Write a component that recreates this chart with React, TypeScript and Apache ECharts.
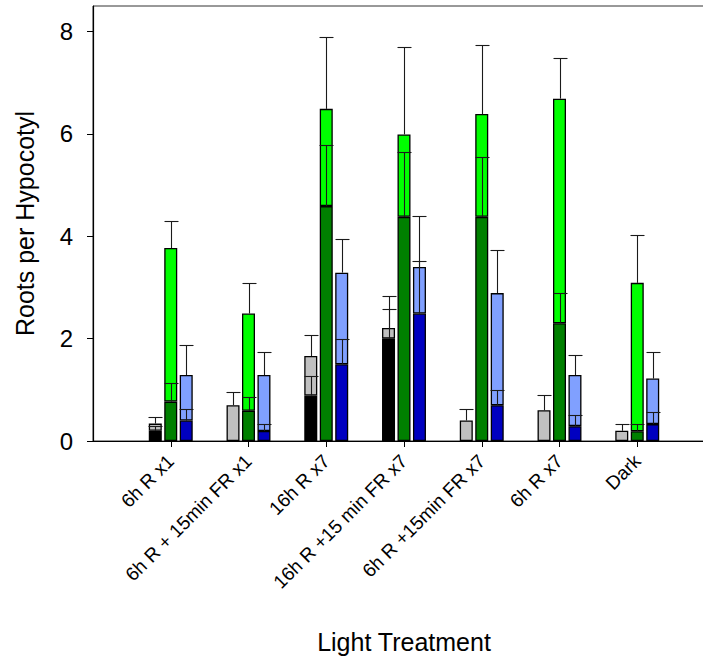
import React, { useEffect, useRef } from "react";
import * as echarts from "echarts";

// ---- Data ----
const categories = [
  "6h R x1",
  "6h R + 15min FR x1",
  "16h R x7",
  "16h R +15 min FR x7",
  "6h R +15min FR x7",
  "6h R x7",
  "Dark",
];

// grey (total) and black (inner) bars
const greyMean = [0.34, 0.7, 1.66, 2.21, 0.4, 0.6, 0.2];
const greySE = [0.12, 0.26, 0.41, 0.63, 0.22, 0.3, 0.13];
const blackMean = [0.2, 0, 0.89, 2.0, 0, 0, 0];
const blackSE = [0.1, 0, 0.38, 0.57, 0, 0, 0];

// light green (total) and dark green (inner) bars
const greenMean = [3.77, 2.49, 6.49, 5.99, 6.39, 6.69, 3.09];
const greenSE = [0.53, 0.6, 1.4, 1.71, 1.35, 0.8, 0.93];
const darkGreenMean = [0.77, 0.59, 4.59, 4.38, 4.38, 2.3, 0.19];
const darkGreenSE = [0.37, 0.27, 1.19, 1.27, 1.16, 0.59, 0.14];

// light blue (total) and dark blue (inner) bars
const lightBlueMean = [1.29, 1.29, 3.29, 3.4, 2.89, 1.29, 1.22];
const lightBlueSE = [0.58, 0.45, 0.65, 1.0, 0.84, 0.39, 0.52];
const darkBlueMean = [0.4, 0.195, 1.5, 2.49, 0.7, 0.29, 0.33];
const darkBlueSE = [0.22, 0.135, 0.5, 1.03, 0.3, 0.22, 0.23];

const yTicks = [0, 2, 4, 6, 8];

const BAR_W = 13;
const BAR_GAP = 0.19;
const PITCH = BAR_W * (1 + BAR_GAP);
const FONT = "'Liberation Sans', Arial, Helvetica, sans-serif";

const axisCats = ["", ...categories, ""];
const pad = (a: (number | null)[]) => [null, ...a, null];
const nz = (a: number[]) => a.map((v) => (v > 0 ? v : null));
const rem = (total: number[], inner: number[]) =>
  total.map((v, i) => +(v - inner[i]).toFixed(3));

function errData(mean: number[], se: number[], slot: number) {
  const out: number[][] = [];
  mean.forEach((m, i) => {
    if (m > 0 && se[i] > 0) out.push([i + 1, m, m + se[i], slot]);
  });
  return out;
}

const barBase = {
  type: "bar" as const,
  barWidth: BAR_W,
  barGap: `${BAR_GAP * 100}%`,
  itemStyle: { borderColor: "#000", borderWidth: 1.3 },
  emphasis: { disabled: true },
};

export default function App() {
  const ref = useRef<HTMLDivElement>(null);
  useEffect(() => {
    if (!ref.current) return;
    const chart = echarts.init(ref.current, undefined, { renderer: "svg" });

    const errSeries = {
      type: "custom" as const,
      z: 5,
      renderItem: (_p: any, api: any) => {
        const xi = api.value(0);
        const m = api.value(1);
        const t = api.value(2);
        const slot = api.value(3);
        const p0 = api.coord([xi, m]);
        const p1 = api.coord([xi, t]);
        const x = Math.round(p0[0] + (slot - 1) * PITCH) + 0.5;
        const y1 = Math.round(p1[1]) + 0.5;
        return {
          type: "group",
          children: [
            {
              type: "line",
              shape: { x1: x, y1: p0[1], x2: x, y2: y1 },
              style: { stroke: "#1a1a1a", lineWidth: 1.1 },
            },
            {
              type: "line",
              shape: { x1: x - BAR_W / 2 - 0.5, y1: y1, x2: x + BAR_W / 2 + 0.5, y2: y1 },
              style: { stroke: "#1a1a1a", lineWidth: 1.1 },
            },
          ],
        };
      },
      data: [
        ...errData(greyMean, greySE, 0),
        ...errData(blackMean, blackSE, 0),
        ...errData(greenMean, greenSE, 1),
        ...errData(darkGreenMean, darkGreenSE, 1),
        ...errData(lightBlueMean, lightBlueSE, 2),
        ...errData(darkBlueMean, darkBlueSE, 2),
      ],
    };

    chart.setOption({
      animation: false,
      grid: {
        left: 93,
        right: -12,
        top: 6,
        bottom: 219,
        show: true,
        borderColor: "#333",
        borderWidth: 1,
        outerBoundsMode: "none",
        containLabel: false,
      },
      xAxis: {
        type: "category",
        data: axisCats,
        boundaryGap: false,
        axisLine: { lineStyle: { color: "#000", width: 1.2 } },
        axisTick: {
          length: 6,
          interval: (i: number) => i > 0 && i < axisCats.length - 1,
          lineStyle: { color: "#000" },
        },
        axisLabel: {
          interval: 0,
          rotate: 45,
          margin: 17,
          fontSize: 19,
          color: "#000",
          fontFamily: FONT,
        },
        name: "Light Treatment",
        nameLocation: "middle",
        nameGap: 188,
        nameTextStyle: { fontSize: 25, color: "#000", fontFamily: FONT },
        splitLine: { show: false },
      },
      yAxis: {
        type: "value",
        min: 0,
        max: 8.5,
        interval: 2,
        axisLine: { show: true, lineStyle: { color: "#000", width: 1.2 } },
        axisTick: { show: true, length: 6, customValues: yTicks, lineStyle: { color: "#000" } },
        axisLabel: {
          customValues: yTicks,
          fontSize: 24,
          color: "#000",
          margin: 20,
          fontFamily: FONT,
        },
        splitLine: { show: false },
        name: "Roots per Hypocotyl",
        nameLocation: "middle",
        nameGap: 56,
        nameTextStyle: { fontSize: 25, color: "#000", fontFamily: FONT },
      },
      series: [
        { ...barBase, name: "black", stack: "A", data: pad(nz(blackMean)), itemStyle: { ...barBase.itemStyle, color: "#000000" } },
        { ...barBase, name: "grey", stack: "A", data: pad(rem(greyMean, blackMean)), itemStyle: { ...barBase.itemStyle, color: "#c0c0c0" } },
        { ...barBase, name: "darkgreen", stack: "B", data: pad(nz(darkGreenMean)), itemStyle: { ...barBase.itemStyle, color: "#008000" } },
        { ...barBase, name: "green", stack: "B", data: pad(rem(greenMean, darkGreenMean)), itemStyle: { ...barBase.itemStyle, color: "#00ff00" } },
        { ...barBase, name: "darkblue", stack: "C", data: pad(nz(darkBlueMean)), itemStyle: { ...barBase.itemStyle, color: "#0000c0" } },
        { ...barBase, name: "lightblue", stack: "C", data: pad(rem(lightBlueMean, darkBlueMean)), itemStyle: { ...barBase.itemStyle, color: "#80a0ff" } },
        errSeries,
      ],
    });
    return () => chart.dispose();
  }, []);

  return (
    <div
      ref={ref}
      style={{ position: "absolute", left: 0, top: 0, width: 703, height: 660, background: "#fff" }}
    />
  );
}
